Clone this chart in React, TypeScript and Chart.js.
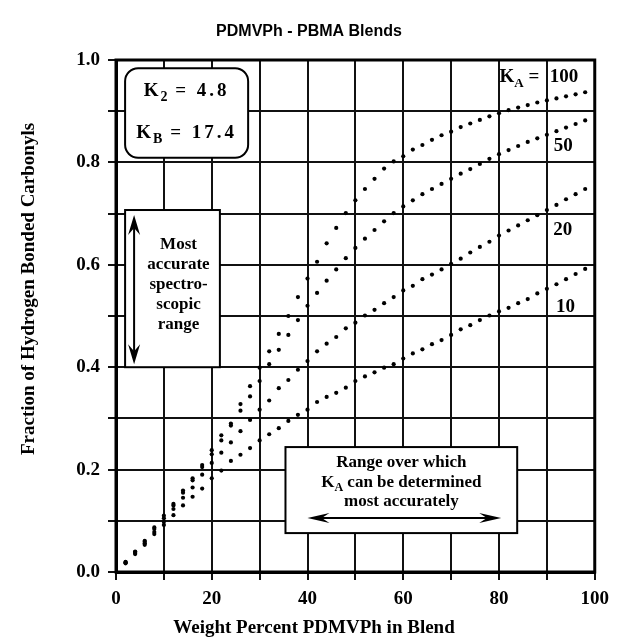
import React, { useEffect, useRef } from "react";
import { Chart, registerables } from "chart.js";

Chart.register(...registerables);

// Blend composition, weight percent PDMVPh
const WT_PERCENT = [
  2, 4, 6, 8, 10, 12, 14, 16, 18, 20, 22, 24, 26, 28, 30, 32, 34, 36, 38, 40, 42, 44, 46, 48, 50,
  52, 54, 56, 58, 60, 62, 64, 66, 68, 70, 72, 74, 76, 78, 80, 82, 84, 86, 88, 90, 92, 94, 96, 98,
];

// Fraction of hydrogen-bonded carbonyls for each inter-association constant K_A
const FHB_KA100 = [
  0.020, 0.040, 0.061, 0.087, 0.110, 0.133, 0.159, 0.183, 0.209, 0.238, 0.267, 0.290, 0.328,
  0.363, 0.399, 0.431, 0.465, 0.500, 0.537, 0.573, 0.606, 0.642, 0.672, 0.701, 0.726, 0.748,
  0.768, 0.788, 0.802, 0.812, 0.825, 0.834, 0.844, 0.853, 0.860, 0.869, 0.876, 0.883, 0.890,
  0.896, 0.902, 0.907, 0.912, 0.917, 0.921, 0.925, 0.929, 0.933, 0.937,
];
const FHB_KA50 = [
  0.019, 0.039, 0.059, 0.084, 0.105, 0.130, 0.155, 0.179, 0.205, 0.230, 0.257, 0.286, 0.315,
  0.343, 0.373, 0.406, 0.434, 0.463, 0.492, 0.520, 0.545, 0.569, 0.591, 0.613, 0.633, 0.651,
  0.668, 0.685, 0.701, 0.714, 0.726, 0.738, 0.748, 0.758, 0.768, 0.778, 0.787, 0.797, 0.807,
  0.816, 0.824, 0.832, 0.840, 0.847, 0.854, 0.861, 0.868, 0.875, 0.882,
];
const FHB_KA20 = [
  0.018, 0.037, 0.056, 0.078, 0.098, 0.123, 0.145, 0.165, 0.190, 0.213, 0.233, 0.253, 0.275,
  0.297, 0.317, 0.335, 0.359, 0.375, 0.395, 0.412, 0.431, 0.446, 0.459, 0.476, 0.487, 0.501,
  0.512, 0.525, 0.537, 0.550, 0.559, 0.572, 0.581, 0.591, 0.602, 0.612, 0.624, 0.635, 0.645,
  0.657, 0.667, 0.677, 0.687, 0.697, 0.707, 0.717, 0.728, 0.738, 0.748,
];
const FHB_KA10 = [
  0.017, 0.035, 0.053, 0.074, 0.092, 0.111, 0.130, 0.147, 0.163, 0.183, 0.198, 0.217, 0.229,
  0.242, 0.257, 0.269, 0.281, 0.295, 0.307, 0.317, 0.332, 0.342, 0.350, 0.360, 0.373, 0.382,
  0.390, 0.399, 0.406, 0.417, 0.427, 0.435, 0.445, 0.453, 0.463, 0.474, 0.482, 0.492, 0.501,
  0.509, 0.516, 0.525, 0.533, 0.544, 0.553, 0.562, 0.572, 0.582, 0.592,
];

const SERIES_NAMES = ["K_A = 100", "K_A = 50", "K_A = 20", "K_A = 10"];
const CURVE_LABELS = ["100", "50", "20", "10"];

const K2_VALUE = "4.8";
const KB_VALUE = "17.4";

const SERIF = '"Liberation Serif", "Times New Roman", serif';
const SANS = '"Liberation Sans", Arial, sans-serif';

type Part = { t: string; size: number; dy?: number; spacing?: number };

function setFont(ctx: CanvasRenderingContext2D, p: Part) {
  ctx.font = `bold ${p.size}px ${SERIF}`;
  (ctx as any).letterSpacing = `${p.spacing || 0}px`;
}

function drawRich(
  ctx: CanvasRenderingContext2D,
  parts: Part[],
  x: number,
  y: number,
  align: "left" | "center"
) {
  let total = 0;
  for (const p of parts) {
    setFont(ctx, p);
    total += ctx.measureText(p.t).width;
  }
  let cx = align === "center" ? x - total / 2 : x;
  ctx.textAlign = "left";
  ctx.textBaseline = "middle";
  for (const p of parts) {
    setFont(ctx, p);
    ctx.fillText(p.t, cx, y + (p.dy || 0));
    cx += ctx.measureText(p.t).width;
  }
  (ctx as any).letterSpacing = "0px";
}

// Barbed arrow head pointing along (dx, dy)
function arrowHead(
  ctx: CanvasRenderingContext2D,
  tx: number,
  ty: number,
  dx: number,
  dy: number,
  len: number,
  half: number
) {
  const px = -dy;
  const py = dx;
  ctx.beginPath();
  ctx.moveTo(tx, ty);
  ctx.lineTo(tx - dx * len + px * half, ty - dy * len + py * half);
  ctx.lineTo(tx - dx * len * 0.65, ty - dy * len * 0.65);
  ctx.lineTo(tx - dx * len - px * half, ty - dy * len - py * half);
  ctx.closePath();
  ctx.fill();
}

function roundRect(ctx: CanvasRenderingContext2D, x: number, y: number, w: number, h: number, r: number) {
  ctx.beginPath();
  ctx.moveTo(x + r, y);
  ctx.lineTo(x + w - r, y);
  ctx.arcTo(x + w, y, x + w, y + r, r);
  ctx.lineTo(x + w, y + h - r);
  ctx.arcTo(x + w, y + h, x + w - r, y + h, r);
  ctx.lineTo(x + r, y + h);
  ctx.arcTo(x, y + h, x, y + h - r, r);
  ctx.lineTo(x, y + r);
  ctx.arcTo(x, y, x + r, y, r);
  ctx.closePath();
}

const decorations = {
  id: "decorations",
  afterDraw(chart: any) {
    const ctx: CanvasRenderingContext2D = chart.ctx;
    const xs = chart.scales.x;
    const ys = chart.scales.y;
    const X = (v: number) => xs.getPixelForValue(v);
    const Y = (v: number) => ys.getPixelForValue(v);
    const area = chart.chartArea;

    ctx.save();
    ctx.fillStyle = "#000";
    ctx.strokeStyle = "#000";

    // plot frame
    ctx.lineWidth = 3;
    ctx.strokeRect(area.left, area.top, area.right - area.left, area.bottom - area.top);

    // heading
    ctx.font = `bold 16px ${SANS}`;
    ctx.textAlign = "center";
    ctx.textBaseline = "middle";
    ctx.fillText("PDMVPh - PBMA Blends", 309, 32);

    // axis titles
    ctx.font = `bold 19px ${SERIF}`;
    ctx.fillText("Weight Percent PDMVPh in Blend", 314, 628);
    ctx.save();
    ctx.translate(29, 289);
    ctx.rotate(-Math.PI / 2);
    ctx.fillText("Fraction of Hydrogen Bonded Carbonyls", 0, 0);
    ctx.restore();

    ctx.lineWidth = 2;

    // self-association constants
    {
      const l = X(1.9), r = X(27.6), t = Y(0.984), b = Y(0.809);
      roundRect(ctx, l, t, r - l, b - t, 13);
      ctx.fillStyle = "#fff";
      ctx.fill();
      ctx.stroke();
      ctx.fillStyle = "#000";
      const cx = (l + r) / 2;
      drawRich(ctx, [
        { t: "K", size: 19, spacing: 2 },
        { t: "2", size: 14, dy: 6 },
        { t: " = " + K2_VALUE, size: 19, spacing: 3 },
      ], cx, t + 23, "center");
      drawRich(ctx, [
        { t: "K", size: 19, spacing: 2 },
        { t: "B", size: 14, dy: 6 },
        { t: " = " + KB_VALUE, size: 19, spacing: 3 },
      ], cx, t + 65, "center");
    }

    // spectroscopic range box with vertical double arrow
    {
      const l = X(1.9), r = X(21.7), t = Y(0.707), b = Y(0.4);
      ctx.fillStyle = "#fff";
      ctx.fillRect(l, t, r - l, b - t);
      ctx.strokeRect(l, t, r - l, b - t);
      ctx.fillStyle = "#000";
      const ax = l + 9;
      ctx.lineWidth = 2;
      ctx.beginPath();
      ctx.moveTo(ax, t + 14);
      ctx.lineTo(ax, b - 14);
      ctx.stroke();
      arrowHead(ctx, ax, t + 5, 0, -1, 20, 6);
      arrowHead(ctx, ax, b - 3, 0, 1, 20, 6);
      const cx = (l + r) / 2 + 6;
      const lines = ["Most", "accurate", "spectro-", "scopic", "range"];
      ctx.font = `bold 17px ${SERIF}`;
      ctx.textAlign = "center";
      ctx.textBaseline = "middle";
      lines.forEach((s, i) => ctx.fillText(s, cx, t + 35 + i * 20));
    }

    // K_A determination range box with horizontal double arrow
    {
      const l = X(35.4), r = X(83.8), t = Y(0.244), b = Y(0.076);
      ctx.fillStyle = "#fff";
      ctx.fillRect(l, t, r - l, b - t);
      ctx.strokeRect(l, t, r - l, b - t);
      ctx.fillStyle = "#000";
      const cx = (l + r) / 2;
      ctx.font = `bold 17px ${SERIF}`;
      ctx.textAlign = "center";
      ctx.textBaseline = "middle";
      ctx.fillText("Range over which", cx, t + 16);
      drawRich(ctx, [
        { t: "K", size: 17 },
        { t: "A", size: 12, dy: 5 },
        { t: " can be determined", size: 17 },
      ], cx, t + 36, "center");
      ctx.font = `bold 17px ${SERIF}`;
      ctx.textAlign = "center";
      ctx.fillText("most accurately", cx, t + 55);
      const ay = t + 71;
      ctx.lineWidth = 2;
      ctx.beginPath();
      ctx.moveTo(l + 30, ay);
      ctx.lineTo(r - 26, ay);
      ctx.stroke();
      arrowHead(ctx, l + 22, ay, -1, 0, 22, 5);
      arrowHead(ctx, r - 16, ay, 1, 0, 22, 5);
    }

    // curve labels
    drawRich(ctx, [
      { t: "K", size: 19 },
      { t: "A", size: 13, dy: 7 },
      { t: " =", size: 19 },
    ], X(80.1), Y(0.967), "left");
    ctx.font = `bold 19px ${SERIF}`;
    ctx.textAlign = "left";
    ctx.textBaseline = "middle";
    ctx.fillText(CURVE_LABELS[0], X(90.6), Y(0.967));
    ctx.textAlign = "center";
    ctx.fillText(CURVE_LABELS[1], X(93.4), Y(0.832));
    ctx.fillText(CURVE_LABELS[2], X(93.3), Y(0.668));
    ctx.fillText(CURVE_LABELS[3], X(93.9), Y(0.518));

    ctx.restore();
  },
};

export default function App() {
  const canvasRef = useRef<HTMLCanvasElement | null>(null);

  useEffect(() => {
    const canvas = canvasRef.current;
    if (!canvas) return;
    const series = [FHB_KA100, FHB_KA50, FHB_KA20, FHB_KA10];
    const chart = new Chart(canvas, {
      type: "scatter",
      data: {
        datasets: series.map((vals, k) => ({
          label: SERIES_NAMES[k],
          data: WT_PERCENT.map((x, i) => ({ x, y: vals[i] })),
          pointRadius: 2.1,
          pointBackgroundColor: "#000",
          pointBorderWidth: 0,
          showLine: false,
        })),
      },
      options: {
        animation: false,
        responsive: false,
        devicePixelRatio: 1,
        layout: { padding: { left: 0, top: 60, right: 15, bottom: 0 } },
        plugins: {
          legend: { display: false },
          title: { display: false },
          tooltip: { enabled: false },
        },
        scales: {
          x: {
            type: "linear",
            min: 0,
            max: 100,
            afterFit: (s: any) => {
              s.height = 71;
            },
            ticks: {
              stepSize: 10,
              autoSkip: false,
              maxRotation: 0,
              padding: 8,
              color: "#000",
              font: { family: SERIF, weight: "bold", size: 19 },
              callback: (v: any) => (Math.round(v) % 20 === 0 ? String(v) : ""),
            },
            grid: { color: "#111", lineWidth: 2, tickLength: 8, drawTicks: true },
            border: { display: true, color: "#000", width: 3 },
          },
          y: {
            type: "linear",
            min: 0,
            max: 1,
            afterFit: (s: any) => {
              s.width = 116;
            },
            ticks: {
              stepSize: 0.1,
              autoSkip: false,
              padding: 8,
              color: "#000",
              font: { family: SERIF, weight: "bold", size: 19 },
              callback: (v: any) =>
                Math.round(Number(v) * 10) % 2 === 0 ? Number(v).toFixed(1) : "",
            },
            grid: { color: "#111", lineWidth: 2, tickLength: 8, drawTicks: true },
            border: { display: true, color: "#000", width: 3 },
          },
        },
      },
      plugins: [decorations],
    });
    return () => chart.destroy();
  }, []);

  return (
    <div
      style={{
        position: "absolute",
        left: 0,
        top: 0,
        width: 617,
        height: 643,
        background: "#fff",
      }}
    >
      <canvas ref={canvasRef} width={617} height={643} style={{ display: "block" }} />
    </div>
  );
}
